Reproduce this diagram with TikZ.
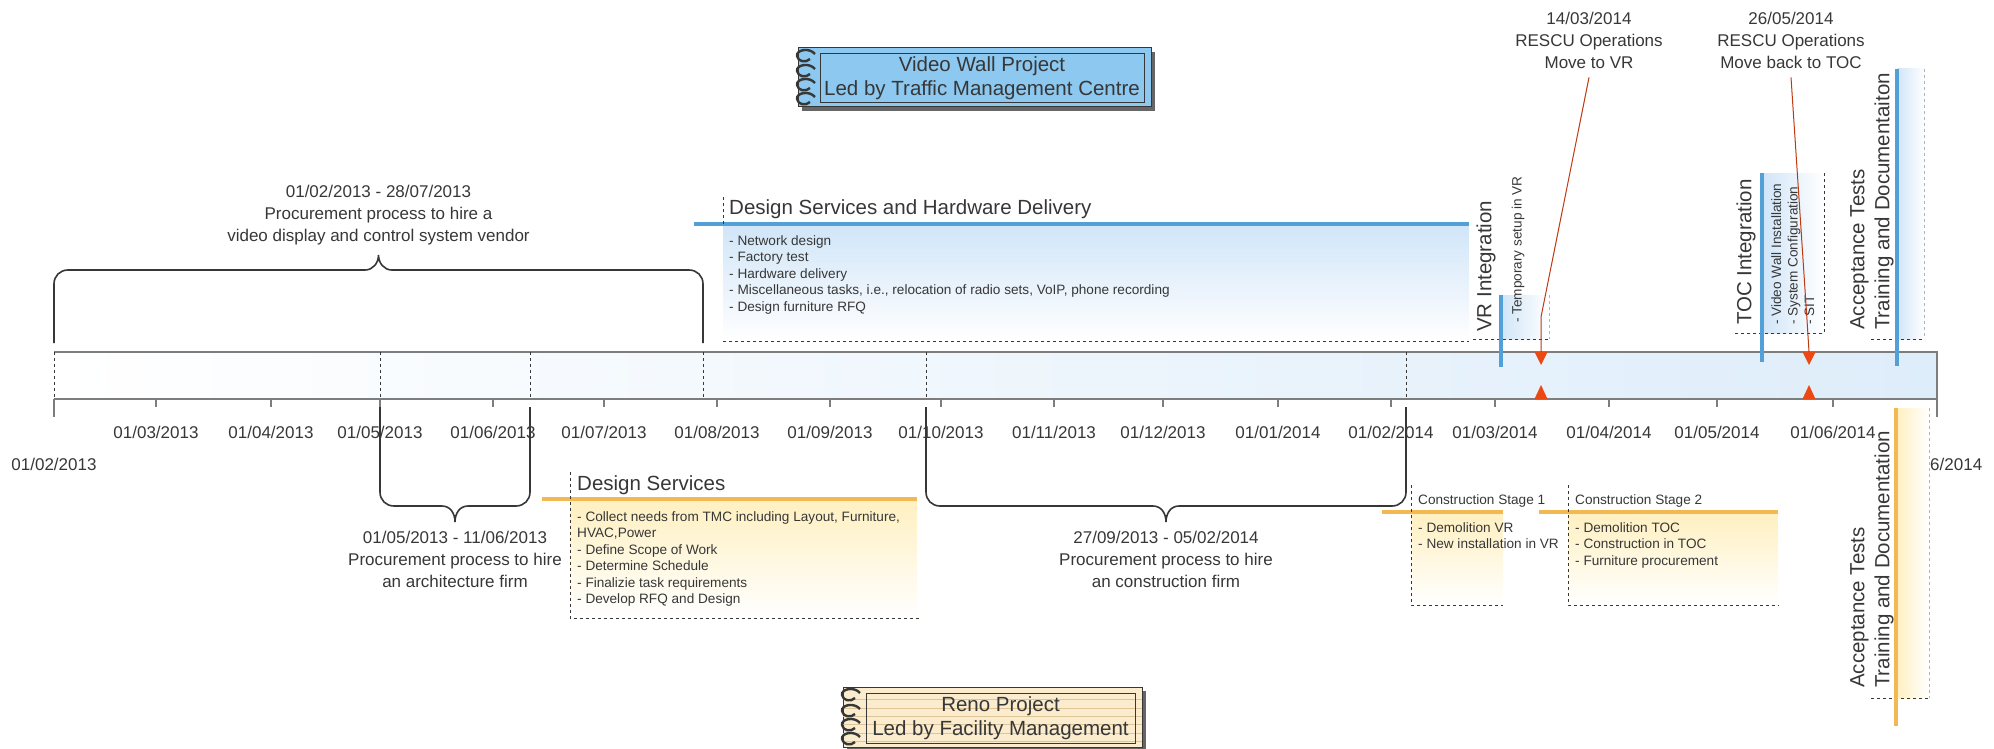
\documentclass[tikz,border=0pt]{standalone}
\usepackage{fontspec}
\setmainfont{Liberation Sans}
\usepackage{tikz}
\usetikzlibrary{arrows}

\definecolor{inkgray}{RGB}{55,55,55}
\definecolor{bargray}{RGB}{125,125,125}
\definecolor{barblue}{RGB}{222,237,250}
\definecolor{boxblue}{RGB}{208,229,248}
\definecolor{boxyellow}{RGB}{255,240,192}
\definecolor{lineblue}{RGB}{82,160,215}
\definecolor{lineorange}{RGB}{242,184,82}
\definecolor{markred}{RGB}{236,72,20}
\definecolor{wallblue}{RGB}{140,200,240}
\definecolor{renopaper}{RGB}{251,236,206}
\definecolor{renorule}{RGB}{222,196,150}

\begin{document}
\begin{tikzpicture}[x=1pt, y=-1pt,
datelbl/.style={font=\fontsize{17}{20}\selectfont},
caption/.style={align=center, font=\fontsize{17}{22}\selectfont},
phasetitle/.style={align=left, font=\fontsize{20.5}{25}\selectfont},
tasks/.style={align=left, font=\fontsize{13.6}{16.5}\selectfont},
notebook/.style={draw=inkgray, line width=1pt, align=center, font=\fontsize{20.5}{24}\selectfont},
spanbrace/.style={draw=inkgray, line width=1.6pt},
barline/.style={draw=bargray, line width=1.6pt},
inbar/.style={draw=inkgray, dashed, line width=0.9pt},
dashline/.style={draw=inkgray, dashed, line width=0.9pt},
lightdash/.style={draw=black!30, dashed, line width=0.9pt},
blueline/.style={draw=lineblue, line width=3.5pt},
orangeline/.style={draw=lineorange, line width=3.5pt},
milestone/.style={draw=markred!80!black, line width=1pt},
ring/.style={draw=inkgray, line width=2.4pt}]
\tikzstyle{every node}=[inner sep=0pt, text=inkgray]

\useasboundingbox (0,0) rectangle (1994,749);

\fill[left color=white, right color=barblue] (54,352) rectangle (1937,399);
\draw[barline] (54,352) -- (1937,352) -- (1937,417);
\draw[barline] (54,399) -- (1937,399);
\draw[barline] (54,399) -- (54,417);
\foreach \x in {54,380,530,703,926,1406}
    \draw[inbar] (\x,352) -- (\x,399);

\foreach \x/\m/\yr in {156/03/2013, 271/04/2013, 380/05/2013, 493/06/2013, 604/07/2013,
    717/08/2013, 830/09/2013, 941/10/2013, 1054/11/2013, 1163/12/2013, 1278/01/2014,
    1391/02/2014, 1495/03/2014, 1609/04/2014, 1717/05/2014, 1833/06/2014}
{
    \draw[barline, line width=1.2pt] (\x,399) -- (\x,407);
    \node[datelbl] (d\m\yr) at (\x,432) {01/\m/\yr};
}
\node[datelbl] (dstart) at (54,464) {01/02/2013};
\node[datelbl, anchor=west] (dend) at (1930,464) {6/2014};

\draw[spanbrace] (54,343) -- (54,284) .. controls (54,276) and (60,270) .. (68,270)
    -- (365,270) .. controls (373,270) and (378.5,263) .. (378.5,255)
    .. controls (378.5,263) and (384,270) .. (392,270)
    -- (689,270) .. controls (697,270) and (703,276) .. (703,284) -- (703,343);
\node[caption] (vendor) at (378.5,215) {01/02/2013 - 28/07/2013\\Procurement process to hire a\\video display and control system vendor};

\draw[spanbrace] (380,407) -- (380,492) .. controls (380,500) and (386,506) .. (394,506)
    -- (442,506) .. controls (450,506) and (455,513) .. (455,522)
    .. controls (455,513) and (460,506) .. (468,506)
    -- (516,506) .. controls (524,506) and (530,500) .. (530,492) -- (530,407);
\node[caption] (architect) at (455,559) {01/05/2013 - 11/06/2013\\Procurement process to hire\\an architecture firm};

\draw[spanbrace] (926,407) -- (926,492) .. controls (926,500) and (932,506) .. (940,506)
    -- (1153,506) .. controls (1161,506) and (1166,513) .. (1166,522)
    .. controls (1166,513) and (1171,506) .. (1179,506)
    -- (1392,506) .. controls (1400,506) and (1406,500) .. (1406,492) -- (1406,407);
\node[caption] (builder) at (1166,559) {27/09/2013 - 05/02/2014\\Procurement process to hire\\an construction firm};

\fill[top color=boxblue, bottom color=white] (723,224) rectangle (1469,341);
\draw[blueline] (694,224) -- (1469,224);
\draw[dashline] (723,197) -- (723,224);
\draw[dashline] (723,341) -- (1469,341);
\node[phasetitle, anchor=west] (dshw) at (729,209) {Design Services and Hardware Delivery};
\node[tasks, anchor=north west] (dshwtasks) at (729,235) {- Network design\\- Factory test\\- Hardware delivery\\- Miscellaneous tasks, i.e., relocation of radio sets, VoIP, phone recording\\- Design furniture RFQ};

\fill[top color=boxyellow, bottom color=white] (570,499) rectangle (917,618);
\draw[orangeline] (542,499) -- (917,499);
\draw[dashline] (570,472) -- (570,618) -- (919,618);
\node[phasetitle, anchor=west] (ds) at (577,485) {Design Services};
\node[tasks, anchor=north west] (dstasks) at (577,511) {- Collect needs from TMC including Layout, Furniture,\\HVAC,Power\\- Define Scope of Work\\- Determine Schedule\\- Finalizie task requirements\\- Develop RFQ and Design};

\fill[top color=boxyellow, bottom color=white] (1411,512) rectangle (1503,605);
\draw[orangeline] (1382,512) -- (1503,512);
\draw[dashline] (1411,485) -- (1411,605) -- (1503,605);
\node[tasks, anchor=west] (cs1) at (1418,501) {Construction Stage 1};
\node[tasks, anchor=north west] (cs1tasks) at (1418,522) {- Demolition VR\\- New installation in VR};

\fill[top color=boxyellow, bottom color=white] (1568,512) rectangle (1778,605);
\draw[orangeline] (1539,512) -- (1778,512);
\draw[dashline] (1568,485) -- (1568,605) -- (1779,605);
\node[tasks, anchor=west] (cs2) at (1575,501) {Construction Stage 2};
\node[tasks, anchor=north west] (cs2tasks) at (1575,522) {- Demolition TOC\\- Construction in TOC\\- Furniture procurement};

\fill[left color=boxblue, right color=white] (1501,295) rectangle (1549,339);
\draw[lightdash] (1549,295) -- (1549,339);
\draw[dashline] (1473,339) -- (1549,339);
\draw[blueline] (1501,295) -- (1501,367);
\node[phasetitle, rotate=90, anchor=west] (vri) at (1486,332) {VR Integration};
\node[tasks, rotate=90, anchor=west] (vritasks) at (1518,323) {- Temporary setup in VR};

\fill[left color=boxblue, right color=white] (1762,173) rectangle (1824,333);
\draw[dashline] (1824,173) -- (1824,333) -- (1735,333);
\draw[blueline] (1762,173) -- (1762,362);
\node[phasetitle, rotate=90, anchor=west] (toci) at (1746,325) {TOC Integration};
\node[tasks, rotate=90, anchor=north west] (tocitasks) at (1771,325) {- Video Wall Installation\\- System Configuration\\- SIT};

\fill[left color=boxblue, right color=white] (1897,69) rectangle (1924,339);
\draw[lightdash] (1924,69) -- (1924,339);
\draw[dashline] (1871,339) -- (1924,339);
\draw[blueline] (1897,69) -- (1897,366);
\node[phasetitle, rotate=90, anchor=north west] (accup) at (1850,330) {Acceptance Tests\\Training and Documentaiton};

\fill[left color=boxyellow, right color=white] (1896,408) rectangle (1929,698);
\draw[lightdash] (1929,408) -- (1929,698);
\draw[dashline] (1871,698) -- (1929,698);
\draw[orangeline] (1896,408) -- (1896,726);
\node[phasetitle, rotate=90, anchor=north west] (acclow) at (1850,688) {Acceptance Tests\\Training and Documentation};

\node[caption] (tovr) at (1589,40) {14/03/2014\\RESCU Operations\\Move to VR};
\node[caption] (totoc) at (1791,40) {26/05/2014\\RESCU Operations\\Move back to TOC};
\coordinate (vrday) at (1541,352);
\coordinate (tocday) at (1809,352);
\draw[milestone] ([yshift=-9pt]tovr.south) -- (1541,317) -- (vrday);
\draw[milestone] ([yshift=-9pt]totoc.south) -- (1807,320) -- (tocday);
\foreach \x in {1541,1809}
{
    \fill[markred] (\x-6.5,352) -- (\x+6.5,352) -- (\x,365) -- cycle;
    \fill[markred] (\x-6.5,399) -- (\x+6.5,399) -- (\x,385) -- cycle;
}

\fill[black!60] (802,52) rectangle (1155,111);
\draw[notebook, fill=wallblue] (798,48) rectangle (1151,107);
\node[notebook, minimum width=324pt, minimum height=49pt] (vwall) at (982,78.5) {Video Wall Project\\Led by Traffic Management Centre};
\foreach \y in {56,71,85,99}
    \draw[ring] (815,\y-2) .. controls (809,\y-9) and (796,\y-6) .. (797,\y) .. controls (798,\y+6) and (806,\y+7) .. (810,\y+3);

\fill[black!60] (847,691) rectangle (1146,749);
\draw[notebook, fill=renopaper] (843,687) rectangle (1142,747);
\foreach \y in {699,708,716,724,733,741}
    \draw[renorule, line width=0.8pt] (843,\y) -- (1142,\y);
\node[notebook, minimum width=269pt, minimum height=50pt] (reno) at (1000.5,718) {Reno Project\\Led by Facility Management};
\foreach \y in {695,711,725,739}
    \draw[ring] (860,\y-2) .. controls (854,\y-9) and (841,\y-6) .. (842,\y) .. controls (843,\y+6) and (851,\y+7) .. (855,\y+3);

\end{tikzpicture}
\end{document}
